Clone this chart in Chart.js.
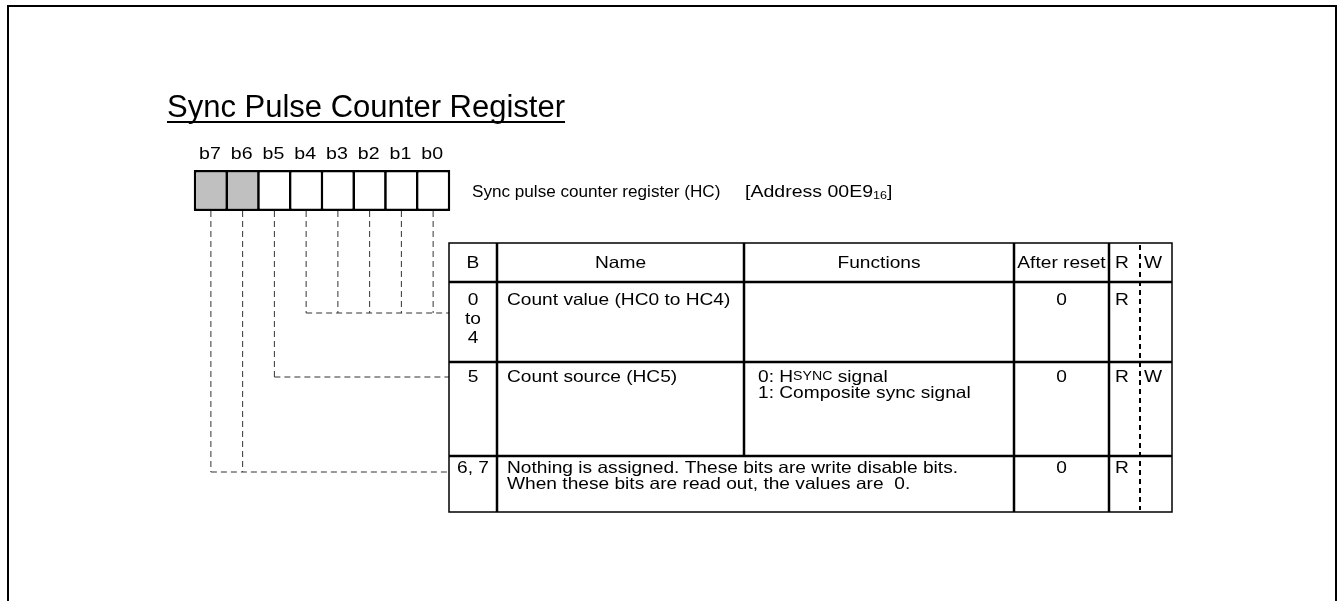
<!DOCTYPE html>
<html>
<head>
<meta charset="utf-8">
<title>Sync Pulse Counter Register</title>
<script src="https://cdn.jsdelivr.net/npm/chart.js@4.4.1/dist/chart.umd.min.js"></script>
<style>
html, body { margin: 0; padding: 0; background: #fff; }
#wrap { width: 1339px; height: 601px; }
</style>
</head>
<body>
<div id="wrap"><canvas id="register_chart" width="1339" height="601"></canvas></div>
<script>
// register content
var title = "Sync Pulse Counter Register";
var registerName = "Sync pulse counter register (HC)";
var registerAddress = "[Address 00E9";
var addressBase = "16";
var bitLabels = ["b7", "b6", "b5", "b4", "b3", "b2", "b1", "b0"];
var bitReserved = [true, true, false, false, false, false, false, false];
var bitRow = [2, 2, 1, 0, 0, 0, 0, 0]; // which table row each bit points to

var headerLabels = ["B", "Name", "Functions", "After reset", "R", "W"];
var rowBits = [["0", "to", "4"], ["5"], ["6, 7"]];
var rowNames = [
    ["Count value (HC0 to HC4)"],
    ["Count source (HC5)"],
    ["Nothing is assigned. These bits are write disable bits.", "When these bits are read out, the values are  0."]
];
var rowFunctions = [[], ["0: H|SYNC| signal", "1: Composite sync signal"], []];
var rowReset = ["0", "0", "0"];
var rowRead = ["R", "R", "R"];
var rowWrite = ["", "W", ""];
var rowNameSpans = [false, false, true]; // name cell runs over the functions column

// layout (pixels in the scale space)
var layout = {
    frame: [8, 6, 1336, 640],
    titleX: 167, titleBase: 117, titleSize: 31,
    bitLeft: 195, bitWidth: 31.75, bitTop: 170, bitBottom: 211, bitLabelY: 154,
    nameX: 472, addressX: 745, nameBase: 197,
    cols: [449, 497, 744, 1014, 1109, 1172], rwSplit: 1140, rwText: [1122, 1153],
    rows: [243, 282, 362, 456, 512],
    leaderY: [313, 377, 472],
    firstLineY: [300, 377, 468]
};
var FONT = '"Liberation Sans", Arial, sans-serif';
var textSize = 16.5;   // table text is drawn a little wide, like the source
var textStretch = 1.16;

function bitCenter(i) {
    return layout.bitLeft + (i + 0.5) * layout.bitWidth;
}

function buildDatasets() {
    var sets = [];
    var lw = 2.5;
    sets.push({
        type: 'bar',
        label: 'bits',
        data: bitLabels.map(function (b, i) {
            return {x: bitCenter(i), y: [layout.bitTop, layout.bitBottom]};
        }),
        backgroundColor: bitReserved.map(function (r) { return r ? '#c0c0c0' : '#ffffff'; }),
        borderColor: '#000',
        borderWidth: lw,
        borderSkipped: false,
        barThickness: layout.bitWidth + lw,
        inflateAmount: 0,
        order: 0
    });
    // vertical leaders from each bit
    bitLabels.forEach(function (b, i) {
        sets.push({
            type: 'line',
            label: 'lead ' + b,
            data: [{x: bitCenter(i), y: layout.bitBottom}, {x: bitCenter(i), y: layout.leaderY[bitRow[i]]}],
            borderColor: '#333',
            borderWidth: 1,
            borderDash: [6, 4],
            pointRadius: 0,
            order: 1
        });
    });
    // horizontal leaders into the table
    layout.leaderY.forEach(function (ly, r) {
        var first = bitRow.indexOf(r);
        sets.push({
            type: 'line',
            label: 'row ' + r,
            data: [{x: bitCenter(first), y: ly}, {x: layout.cols[0], y: ly}],
            borderColor: '#333',
            borderWidth: 1,
            borderDash: [6, 4],
            pointRadius: 0,
            order: 1
        });
    });
    return sets;
}

// draw text stretched horizontally; returns advance width
function stretchText(ctx, str, x, y, size, align, sx) {
    ctx.font = size + 'px ' + FONT;
    var w = ctx.measureText(str).width * sx;
    var x0 = x;
    if (align === 'center') x0 = x - w / 2;
    else if (align === 'right') x0 = x - w;
    ctx.save();
    ctx.translate(x0, y);
    ctx.scale(sx, 1);
    ctx.textAlign = 'left';
    ctx.fillText(str, 0, 0);
    ctx.restore();
    return w;
}

function drawSegments(ctx, str, x, y, size, sx) {
    // text between | marks is drawn as small caps
    str.split('|').forEach(function (p, k) {
        var small = k % 2 === 1;
        var t = small ? p.toUpperCase() : p;
        x += stretchText(ctx, t, x, y, small ? size * 0.74 : size, 'left', sx);
    });
}

var registerPlugin = {
    id: 'registerTable',
    afterDraw: function (chart) {
        var ctx = chart.ctx;
        var xs = chart.scales.x, ys = chart.scales.y;
        var px = function (v) { return xs.getPixelForValue(v); };
        var py = function (v) { return ys.getPixelForValue(v); };
        var L = layout, c = L.cols, r = L.rows;
        ctx.save();
        ctx.fillStyle = '#000';
        ctx.strokeStyle = '#000';

        // page frame
        ctx.lineWidth = 2;
        ctx.strokeRect(px(L.frame[0]), py(L.frame[1]), px(L.frame[2]) - px(L.frame[0]), py(L.frame[3]) - py(L.frame[1]));

        // title
        ctx.textBaseline = 'alphabetic';
        var tw = stretchText(ctx, title, px(L.titleX), py(L.titleBase), L.titleSize, 'left', 1);
        ctx.fillRect(px(L.titleX), py(L.titleBase) + 4, tw, 2);

        // bit labels
        ctx.textBaseline = 'middle';
        bitLabels.forEach(function (b, i) {
            stretchText(ctx, b, px(bitCenter(i)) - 1, py(L.bitLabelY), 17, 'center', 1.15);
        });

        // register name + address
        ctx.textBaseline = 'alphabetic';
        stretchText(ctx, registerName, px(L.nameX), py(L.nameBase), 16, 'left', 1.07);
        var nx = px(L.addressX);
        nx += stretchText(ctx, registerAddress, nx, py(L.nameBase), 16, 'left', 1.22);
        nx += stretchText(ctx, addressBase, nx, py(L.nameBase) + 2, 10.5, 'left', 1.2);
        stretchText(ctx, ']', nx, py(L.nameBase), 16, 'left', 1.2);

        // table grid
        ctx.lineWidth = 2.5;
        ctx.beginPath();
        [r[1], r[2], r[3]].forEach(function (y) {
            ctx.moveTo(px(c[0]), py(y));
            ctx.lineTo(px(c[5]), py(y));
        });
        [c[1], c[3], c[4]].forEach(function (x) {
            ctx.moveTo(px(x), py(r[0]));
            ctx.lineTo(px(x), py(r[4]));
        });
        ctx.moveTo(px(c[2]), py(r[0]));
        ctx.lineTo(px(c[2]), py(rowNameSpans[2] ? r[3] : r[4]));
        ctx.stroke();

        ctx.lineWidth = 1.5;
        ctx.strokeRect(px(c[0]), py(r[0]), px(c[5]) - px(c[0]), py(r[4]) - py(r[0]));

        ctx.lineWidth = 2;
        ctx.setLineDash([5, 4]);
        ctx.beginPath();
        ctx.moveTo(px(L.rwSplit), py(r[0]) + 2);
        ctx.lineTo(px(L.rwSplit), py(r[4]) - 2);
        ctx.stroke();
        ctx.setLineDash([]);

        // header
        ctx.textBaseline = 'middle';
        var hy = py((r[0] + r[1]) / 2 + 1);
        for (var k = 0; k < 4; k++) {
            stretchText(ctx, headerLabels[k], px((c[k] + c[k + 1]) / 2), hy, textSize, 'center', textStretch);
        }
        stretchText(ctx, headerLabels[4], px(L.rwText[0]), hy, textSize, 'center', textStretch);
        stretchText(ctx, headerLabels[5], px(L.rwText[1]), hy, textSize, 'center', textStretch);

        // rows
        rowBits.forEach(function (bits, i) {
            var y0 = L.firstLineY[i];
            bits.forEach(function (t, j) {
                stretchText(ctx, t, px((c[0] + c[1]) / 2), py(y0 + j * 19), textSize, 'center', textStretch);
            });
            stretchText(ctx, rowReset[i], px((c[3] + c[4]) / 2), py(y0), textSize, 'center', textStretch);
            stretchText(ctx, rowRead[i], px(L.rwText[0]), py(y0), textSize, 'center', textStretch);
            if (rowWrite[i]) stretchText(ctx, rowWrite[i], px(L.rwText[1]), py(y0), textSize, 'center', textStretch);
            rowNames[i].forEach(function (t, j) {
                stretchText(ctx, t, px(c[1] + 10), py(y0 + j * 16), textSize, 'left', textStretch);
            });
            rowFunctions[i].forEach(function (t, j) {
                drawSegments(ctx, t, px(c[2] + 14), py(y0 + j * 16), textSize, textStretch);
            });
        });
        ctx.restore();
    }
};

function renderRegister() {
    var context = document.getElementById("register_chart").getContext('2d');
    var registerChart = new Chart(context, {
        type: 'bar',
        data: {datasets: buildDatasets()},
        options: {
            responsive: false,
            devicePixelRatio: 1,
            animation: false,
            layout: {padding: 0},
            plugins: {legend: {display: false}, tooltip: {enabled: false}},
            scales: {
                x: {type: 'linear', min: 0, max: 1339, offset: false, display: false},
                y: {type: 'linear', min: 0, max: 601, reverse: true, display: false}
            }
        },
        plugins: [registerPlugin]
    });
}

renderRegister();
</script>
</body>
</html>
